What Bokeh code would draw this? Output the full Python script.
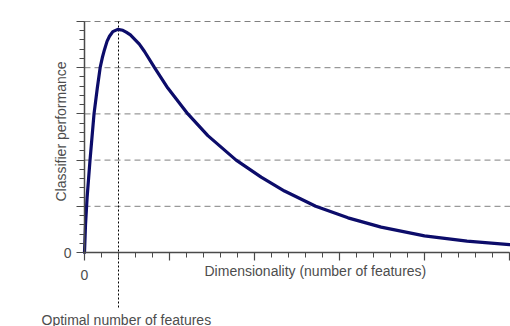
import math
from bokeh.plotting import figure
from bokeh.models import FixedTicker, Label, LinearAxis, Range1d
from bokeh.embed import file_html
from bokeh.resources import INLINE

# Curve (x: dimensionality units, y: performance units)
curve_x = [0.0, 0.012, 0.031, 0.065, 0.112, 0.15, 0.184, 0.21, 0.235, 0.265, 0.294, 0.333,
           0.392, 0.451, 0.49, 0.54, 0.588, 0.645, 0.706, 0.824, 0.98, 1.216, 1.451,
           1.784, 2.078, 2.353, 2.72, 3.1, 3.49, 4.0, 4.5, 5.0]
curve_y = [0.0, 0.6, 1.2, 2.0, 3.0, 3.55, 4.0, 4.22, 4.39, 4.57, 4.68, 4.78,
           4.83, 4.81, 4.77, 4.71, 4.62, 4.51, 4.35, 4.0, 3.56, 3.0, 2.53,
           2.0, 1.63, 1.33, 1.0, 0.75, 0.55, 0.36, 0.245, 0.17]

grid_y = [1, 2, 3, 4, 5]
x_major = [0, 1, 2, 3, 4, 5]
x_minor = [i * 0.2 for i in range(26)]
y_major = [0, 1, 2, 3, 4, 5]
y_minor = [i * 0.2 for i in range(26)]
optimal_x = 0.4
x_tick_labels = {1: "", 2: "", 3: "", 4: "", 5: ""}
y_tick_labels = {1: "", 2: "", 3: "", 4: "", 5: ""}

x_title = "Dimensionality (number of features)"
y_title = "Classifier performance"
opt_title = "Optimal number of features"

W, H = 510, 326
px_x = 85.0
px_y = 46.2
x0_px, y0_px = 84, 252

p = figure(width=W, height=H, output_backend="svg", toolbar_location=None,
           x_range=Range1d(-x0_px / px_x, (W - x0_px) / px_x),
           y_range=Range1d(-(H - y0_px) / px_y, y0_px / px_y),
           x_axis_type=None, y_axis_type=None, min_border=0)
p.outline_line_color = None
p.grid.visible = False
p.background_fill_color = "white"
p.border_fill_color = "white"

font = "Liberation Sans"
txt_color = "#4d4d4d"
axis_color = "#4a4a4a"

xaxis = LinearAxis(ticker=FixedTicker(ticks=x_major, minor_ticks=x_minor),
                   fixed_location=0, bounds=(0, 5))
xaxis.major_label_overrides = x_tick_labels
yaxis = LinearAxis(ticker=FixedTicker(ticks=y_major, minor_ticks=y_minor),
                   fixed_location=0, bounds=(0, 5))
yaxis.major_label_overrides = y_tick_labels
for ax in (xaxis, yaxis):
    ax.axis_line_color = axis_color
    ax.axis_line_width = 1.5
    ax.major_tick_line_color = axis_color
    ax.minor_tick_line_color = axis_color
    ax.major_tick_line_width = 1.2
    ax.minor_tick_line_width = 1.0
    ax.major_tick_in = 0
    ax.minor_tick_in = 0
    ax.major_tick_out = 8
    ax.minor_tick_out = 5
    ax.major_label_text_font = font
    ax.major_label_text_font_size = "14px"
    ax.major_label_text_color = txt_color
xaxis.major_label_standoff = 9
yaxis.major_label_standoff = 5
p.add_layout(xaxis, "below")
p.add_layout(yaxis, "left")

# dashed grid lines
p.segment(x0=[0] * len(grid_y), x1=[(W - x0_px) / px_x] * len(grid_y), y0=grid_y, y1=grid_y,
          line_color="#808080", line_width=1, line_dash="6 4")

# optimal vertical dotted line
p.segment(x0=[optimal_x], x1=[optimal_x], y0=[5], y1=[-1.21],
          line_color="black", line_width=1, line_dash="2 2")

p.line(curve_x, curve_y, line_color="#0c0c6a", line_width=3.2, line_join="round", line_cap="round")

p.add_layout(Label(x=(204 - x0_px) / px_x, y=(y0_px - 270) / px_y, text=x_title,
                   text_font=font, text_font_size="14px", text_color=txt_color,
                   text_baseline="middle", text_align="left"))
p.add_layout(Label(x=(60 - x0_px) / px_x, y=(y0_px - 131) / px_y, text=y_title, angle=math.pi / 2,
                   text_font=font, text_font_size="14px", text_color=txt_color,
                   text_baseline="middle", text_align="center"))
p.add_layout(Label(x=(41 - x0_px) / px_x, y=(y0_px - 319) / px_y, text=opt_title,
                   text_font=font, text_font_size="14px", text_color=txt_color,
                   text_baseline="middle", text_align="left"))

open("out.html", "w").write(file_html(p, INLINE))
